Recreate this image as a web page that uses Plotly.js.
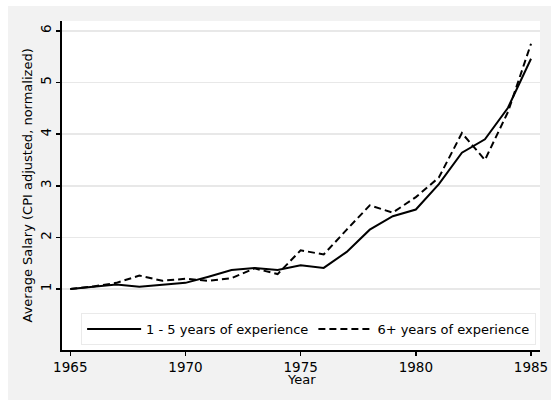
<!DOCTYPE html>
<html>
<head>
<meta charset="utf-8">
<script src="https://cdn.plot.ly/plotly-3.0.1.min.js"></script>
<style>
  html, body { margin: 0; padding: 0; background: #ffffff; width: 551px; height: 402px; overflow: hidden; }
  #chart { position: absolute; left: 8px; top: 6px; width: 543px; height: 394px; }
</style>
</head>
<body>
<div id="chart"></div>
<script>
const years = [1965,1966,1967,1968,1969,1970,1971,1972,1973,1974,1975,1976,1977,1978,1979,1980,1981,1982,1983,1984,1985];
const exp1to5 = [1.00,1.04,1.09,1.045,1.08,1.12,1.24,1.37,1.41,1.37,1.46,1.41,1.72,2.15,2.41,2.54,3.03,3.64,3.90,4.51,5.46];
const exp6plus = [1.00,1.05,1.12,1.26,1.16,1.20,1.16,1.21,1.40,1.29,1.75,1.67,2.15,2.62,2.48,2.78,3.16,4.02,3.50,4.43,5.75];
const seriesNames = ["1 - 5 years of experience", "6+ years of experience"];
const xTicks = [1965,1970,1975,1980,1985];
const yTicks = [1,2,3,4,5,6];
const xTitle = "Year";
const yTitle = "Average Salary (CPI adjusted, normalized)";

const FONT = "DejaVu Sans, Verdana, sans-serif";

const traces = [
  { x: years, y: exp1to5, name: seriesNames[0], type: "scatter", mode: "lines",
    line: { color: "#000000", width: 2, dash: "solid" } },
  { x: years, y: exp6plus, name: seriesNames[1], type: "scatter", mode: "lines",
    line: { color: "#000000", width: 2, dash: "7px,4px" } }
];

const layout = {
  width: 543, height: 394,
  paper_bgcolor: "#f2f2f2",
  plot_bgcolor: "#ffffff",
  margin: { l: 54, r: 11, t: 15, b: 50 },
  font: { family: FONT, size: 13, color: "#000000" },
  showlegend: true,
  legend: {
    orientation: "h",
    x: 0.04, xanchor: "left",
    y: 0.015, yanchor: "bottom",
    bgcolor: "#ffffff",
    bordercolor: "#eaeaea",
    borderwidth: 1,
    font: { family: FONT, size: 13, color: "#000000" },
    itemwidth: 54,
    tracegroupgap: 0
  },
  xaxis: {
    range: [1964.64, 1985.39],
    tickvals: xTicks,
    ticktext: xTicks.map(String),
    showgrid: false,
    zeroline: false,
    showline: true, linecolor: "#000000", linewidth: 2,
    ticks: "outside", ticklen: 4, tickwidth: 1.5, tickcolor: "#000000",
    tickfont: { family: FONT, size: 13.5 },
    automargin: false
  },
  yaxis: {
    range: [-0.18, 6.19],
    tickvals: yTicks,
    ticktext: yTicks.map(String),
    tickangle: -90,
    showgrid: true, gridcolor: "#e8e8e8", gridwidth: 1.5,
    zeroline: false,
    showline: true, linecolor: "#000000", linewidth: 2,
    ticks: "outside", ticklen: 4, tickwidth: 1.5, tickcolor: "#000000",
    tickfont: { family: FONT, size: 13.5 },
    ticklabelstandoff: 0,
    automargin: false
  },
  annotations: [
    { text: yTitle, xref: "paper", yref: "paper", x: 0, y: 0.5,
      xshift: -35, xanchor: "center", yanchor: "middle", textangle: -90,
      showarrow: false, font: { family: FONT, size: 13 } },
    { text: xTitle, xref: "paper", yref: "paper", x: 0.5, y: 0,
      yshift: -29, xanchor: "center", yanchor: "middle",
      showarrow: false, font: { family: FONT, size: 13 } }
  ]
};

Plotly.newPlot("chart", traces, layout, { displayModeBar: false, staticPlot: true });
</script>
</body>
</html>
